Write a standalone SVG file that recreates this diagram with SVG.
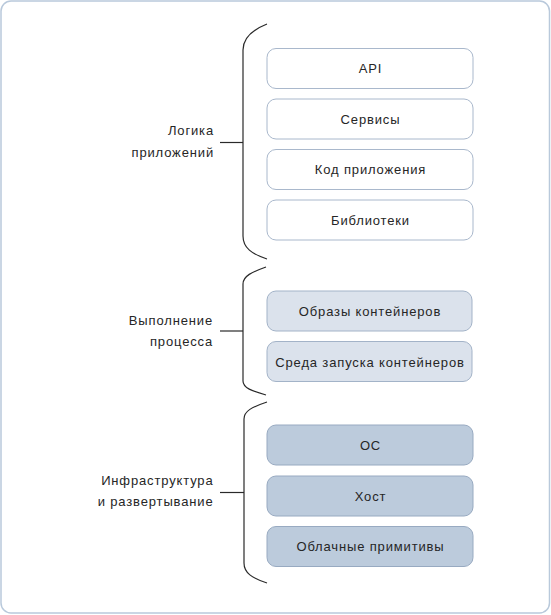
<svg xmlns="http://www.w3.org/2000/svg" width="551" height="615" viewBox="0 0 551 615">
<style>
.frame{fill:#ffffff;stroke:#b9c9db;stroke-width:1.5}
.box{stroke-width:1}
.b1{fill:#ffffff;stroke:#a9b8cc}
.b2{fill:#dbe2ec;stroke:#a3b3c8}
.b3{fill:#bccbdc;stroke:#98aac1}
.t{font-family:"Liberation Sans",Arial,sans-serif;font-size:13px;fill:#262626;letter-spacing:0.85px}
.c{text-anchor:middle}
.r{text-anchor:end}
.br{fill:none;stroke:#2a2a2a;stroke-width:1.2}
</style>
<rect class="frame" x="1" y="1" width="548.5" height="612" rx="10"/>
<g id="connectors">
<path class="br" d="M267,24 C252,30 243,38 243,50 L243,236 C243,248 252,254 267,259"/>
<path class="br" d="M220,142.5 L243,142.5"/>
<path class="br" d="M266,267 C252,272 243,276 243,284 L243,381 C243,388 252,391 266,395"/>
<path class="br" d="M220,331 L243,331"/>
<path class="br" d="M267,402 C252,407 244,411 244,419 L244,563 C244,573 252,578 267,583"/>
<path class="br" d="M220,492.5 L244,492.5"/>
</g>
<g id="label-logic">
<text class="t r" x="214" y="135">Логика</text>
<text class="t r" x="214" y="157">приложений</text>
</g>
<g id="label-process">
<text class="t r" x="213" y="325">Выполнение</text>
<text class="t r" x="213" y="346">процесса</text>
</g>
<g id="label-infra">
<text class="t r" x="213.5" y="485">Инфраструктура</text>
<text class="t r" x="213.5" y="506">и развертывание</text>
</g>
<g id="node-api"><rect class="box b1" x="267" y="48.5" width="206" height="40" rx="9"/><text class="t c" x="370.5" y="73">API</text></g>
<g id="node-services"><rect class="box b1" x="267" y="99" width="206" height="40" rx="9"/><text class="t c" x="370.5" y="123.5">Сервисы</text></g>
<g id="node-appcode"><rect class="box b1" x="267" y="149.5" width="206" height="40" rx="9"/><text class="t c" x="370.5" y="174">Код приложения</text></g>
<g id="node-libs"><rect class="box b1" x="267" y="200" width="206" height="40" rx="9"/><text class="t c" x="370.5" y="224.5">Библиотеки</text></g>
<g id="node-images"><rect class="box b2" x="267" y="291" width="205" height="40" rx="9"/><text class="t c" x="370" y="316">Образы контейнеров</text></g>
<g id="node-runtime"><rect class="box b2" x="267" y="341.5" width="205" height="40" rx="9"/><text class="t c" x="370" y="366.5">Среда запуска контейнеров</text></g>
<g id="node-os"><rect class="box b3" x="267" y="425" width="206" height="40" rx="9"/><text class="t c" x="370.5" y="449.5">ОС</text></g>
<g id="node-host"><rect class="box b3" x="267" y="476" width="206" height="40" rx="9"/><text class="t c" x="370.5" y="500.5">Хост</text></g>
<g id="node-cloud"><rect class="box b3" x="267" y="526.5" width="206" height="40" rx="9"/><text class="t c" x="370.5" y="551">Облачные примитивы</text></g>
</svg>
